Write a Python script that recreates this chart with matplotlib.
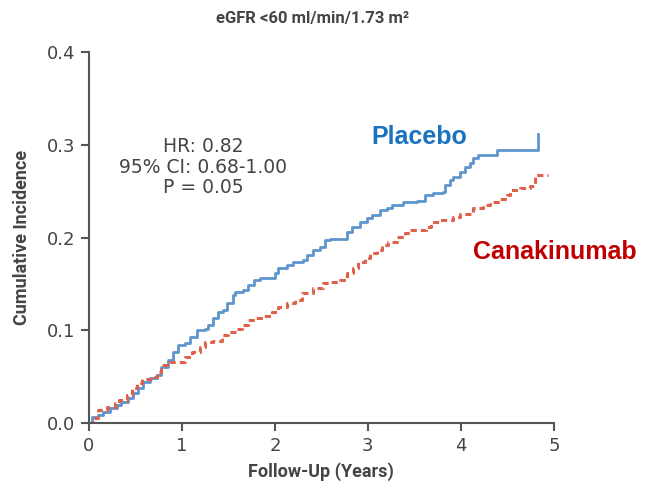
import matplotlib
matplotlib.use("Agg")
import matplotlib.pyplot as plt

# Kaplan-Meier style cumulative incidence (years, incidence)
placebo_t = [0, 0.03, 0.10, 0.15, 0.23, 0.30, 0.35, 0.42, 0.47, 0.53, 0.58, 0.66, 0.73,
             0.78, 0.85, 0.90, 0.96, 1.03, 1.09, 1.16, 1.25, 1.28, 1.33, 1.39, 1.44,
             1.49, 1.55, 1.57, 1.66, 1.71, 1.78, 1.84, 2.00, 2.03, 2.13, 2.19, 2.30,
             2.35, 2.41, 2.48, 2.54, 2.59, 2.77, 2.83, 2.91, 2.99, 3.04, 3.13, 3.20,
             3.26, 3.38, 3.53, 3.61, 3.70, 3.81, 3.83, 3.88, 3.91, 3.99, 4.04, 4.10,
             4.13, 4.18, 4.39, 4.83]
placebo_y = [0, 0.007, 0.009, 0.012, 0.016, 0.019, 0.023, 0.027, 0.032, 0.038, 0.044,
             0.049, 0.052, 0.060, 0.068, 0.077, 0.084, 0.086, 0.093, 0.100, 0.102,
             0.106, 0.113, 0.120, 0.122, 0.130, 0.138, 0.141, 0.143, 0.149, 0.154,
             0.156, 0.162, 0.167, 0.170, 0.174, 0.176, 0.181, 0.187, 0.190, 0.197,
             0.199, 0.206, 0.211, 0.217, 0.221, 0.224, 0.230, 0.232, 0.235, 0.238,
             0.240, 0.246, 0.248, 0.249, 0.257, 0.262, 0.265, 0.271, 0.276, 0.280,
             0.286, 0.289, 0.294, 0.312]

cana_t = [0, 0.05, 0.10, 0.20, 0.28, 0.33, 0.41, 0.46, 0.52, 0.57, 0.68, 0.73, 0.78,
          0.87, 1.03, 1.11, 1.19, 1.25, 1.34, 1.43, 1.50, 1.59, 1.65, 1.71, 1.79,
          1.87, 1.97, 2.03, 2.13, 2.22, 2.29, 2.41, 2.52, 2.59, 2.70, 2.77, 2.84,
          2.89, 2.97, 3.02, 3.10, 3.15, 3.22, 3.31, 3.40, 3.45, 3.62, 3.68, 3.77,
          3.91, 3.99, 4.13, 4.24, 4.31, 4.42, 4.49, 4.53, 4.63, 4.74, 4.80, 4.94]
cana_y = [0, 0.006, 0.014, 0.017, 0.022, 0.025, 0.030, 0.038, 0.043, 0.048, 0.050,
          0.055, 0.063, 0.066, 0.071, 0.077, 0.082, 0.087, 0.089, 0.095, 0.098,
          0.102, 0.106, 0.111, 0.113, 0.116, 0.120, 0.125, 0.129, 0.133, 0.140,
          0.146, 0.151, 0.152, 0.154, 0.162, 0.167, 0.174, 0.178, 0.183, 0.187,
          0.192, 0.195, 0.201, 0.205, 0.208, 0.211, 0.217, 0.219, 0.222, 0.226,
          0.232, 0.235, 0.238, 0.242, 0.246, 0.251, 0.253, 0.256, 0.267, 0.267]

xticks = [0, 1, 2, 3, 4, 5]
yticks = [0.0, 0.1, 0.2, 0.3, 0.4]

gray = "#555555"
txt = "#444444"
lab_font = ["Roboto", "DejaVu Sans"]

fig = plt.figure(figsize=(6.48, 4.92), dpi=100)
ax = fig.add_axes([0.137, 0.140, 0.718, 0.754])

ax.step(placebo_t, placebo_y, where="post", color="#5e95cd", lw=2.0)
ax.step(cana_t, cana_y, where="post", color="#e0614a", lw=2.2, ls=(0, (2, 1.3)))

ax.set_xlim(0, 5)
ax.set_ylim(0, 0.4)
ax.set_xticks(xticks)
ax.set_yticks(yticks)
ax.set_xticklabels([str(t) for t in xticks])
ax.set_yticklabels(["%.1f" % t for t in yticks])

for s in ["top", "right"]:
    ax.spines[s].set_visible(False)
for s in ["left", "bottom"]:
    ax.spines[s].set_color(gray)
    ax.spines[s].set_linewidth(1.5)
ax.tick_params(direction="out", length=6, width=1.5, color=gray,
               labelsize=13, labelcolor=txt, pad=4)

ax.set_xlabel("Follow-Up (Years)", fontsize=13, color=txt, fontweight="bold",
              family=lab_font, labelpad=5)
ax.set_ylabel("Cumulative Incidence", fontsize=13, color=txt, fontweight="bold",
              family=lab_font, labelpad=11)
fig.text(0.483, 0.963, "eGFR <60 ml/min/1.73 m\u00b2", ha="center", va="center",
         fontsize=12, color=txt, fontweight="bold", family=lab_font)

ax.text(1.23, 0.276, "HR: 0.82\n95% CI: 0.68-1.00\nP = 0.05", ha="center", va="center",
        fontsize=13.5, color=txt, linespacing=1.1)
ax.text(3.04, 0.309, "Placebo", color="#1a72c0", fontsize=18, fontweight="bold",
        family="Liberation Sans", va="center")
ax.text(4.13, 0.184, "Canakinumab", color="#c00000", fontsize=18, fontweight="bold",
        family="Liberation Sans", va="center", clip_on=False)

fig.savefig("out.png", dpi=100)
